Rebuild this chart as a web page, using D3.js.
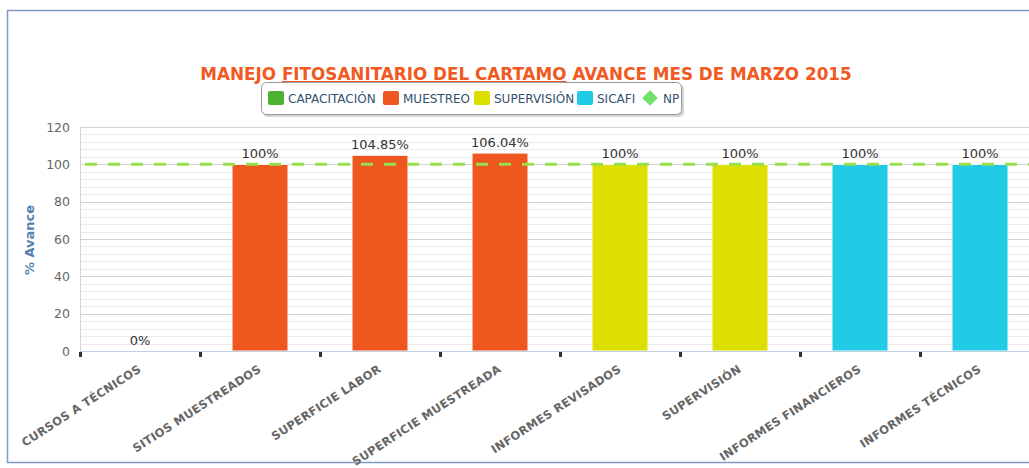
<!DOCTYPE html>
<html>
<head>
<meta charset="utf-8">
<script src="https://cdn.jsdelivr.net/npm/d3@7"></script>
<style>
  body { margin: 0; background: #fff; }
  svg { display: block; font-family: "DejaVu Sans", sans-serif; }
</style>
</head>
<body>
<div id="chart"></div>
<script>
// chart data
var categories = ["CURSOS A TÉCNICOS", "SITIOS MUESTREADOS", "SUPERFICIE LABOR", "SUPERFICIE MUESTREADA",
  "INFORMES REVISADOS", "SUPERVISIÓN", "INFORMES FINANCIEROS", "INFORMES TÉCNICOS"];
var values = [0, 100, 104.85, 106.04, 100, 100, 100, 100];
var valueLabels = ["0%", "100%", "104.85%", "106.04%", "100%", "100%", "100%", "100%"];
var groups = ["CAPACITACIÓN", "MUESTREO", "MUESTREO", "MUESTREO", "SUPERVISIÓN", "SUPERVISIÓN", "SICAFI", "SICAFI"];
var seriesNames = ["CAPACITACIÓN", "MUESTREO", "SUPERVISIÓN", "SICAFI"];
var seriesColors = ["#4cb133", "#ee571d", "#dddf00", "#22cbe5"];
var npValue = 100;
var yTicks = [0, 20, 40, 60, 80, 100, 120];

var svgWidth = 1029;
var svgHeight = 468;

var margin = { top: 127, left: 80 };
var width = 960;
var height = 224;

var svg = d3.select("#chart")
  .append("svg")
  .attr("width", svgWidth)
  .attr("height", svgHeight);

// outer frame
svg.append("rect")
  .attr("x", 7.5)
  .attr("y", 10.5)
  .attr("width", 1060)
  .attr("height", 452)
  .attr("fill", "none")
  .attr("stroke", "#7f9cc8")
  .attr("stroke-width", 1.5);

var colorScale = d3.scaleOrdinal()
  .domain(seriesNames)
  .range(seriesColors);

var xScale = d3.scaleBand()
  .domain(categories)
  .range([0, width])
  .paddingInner(0.5334)
  .paddingOuter(0.2667);

var yScale = d3.scaleLinear()
  .domain([0, 120])
  .range([height, 0]);

var chartGroup = svg.append("g")
  .attr("transform", `translate(${margin.left}, ${margin.top})`);

// minor grid lines
chartGroup.append("g")
  .selectAll("line")
  .data(d3.range(0, 121, 4))
  .enter()
  .append("line")
  .attr("x1", 0)
  .attr("x2", width)
  .attr("y1", d => Math.round(yScale(d)) + 0.5)
  .attr("y2", d => Math.round(yScale(d)) + 0.5)
  .attr("stroke", "#ebebeb")
  .attr("stroke-width", 1);

// major grid lines
chartGroup.append("g")
  .selectAll("line")
  .data(yTicks)
  .enter()
  .append("line")
  .attr("x1", 0)
  .attr("x2", width)
  .attr("y1", d => Math.round(yScale(d)) + 0.5)
  .attr("y2", d => Math.round(yScale(d)) + 0.5)
  .attr("stroke", "#d2d2d2")
  .attr("stroke-width", 1);

// left border of plot area
chartGroup.append("line")
  .attr("x1", 0.5).attr("x2", 0.5)
  .attr("y1", 0).attr("y2", height)
  .attr("stroke", "#d4d4d4");

// y axis
var leftAxis = d3.axisLeft(yScale)
  .tickValues(yTicks)
  .tickSize(0)
  .tickPadding(10);

var yAxis = chartGroup.append("g").call(leftAxis);
yAxis.select(".domain").remove();
yAxis.selectAll("text")
  .attr("fill", "#666")
  .style("font-size", "12.5px")
  .style("font-family", "DejaVu Sans, sans-serif");

// bars
chartGroup.selectAll(".bar")
  .data(values)
  .enter()
  .append("rect")
  .attr("class", "bar")
  .attr("x", (d, i) => xScale(categories[i]))
  .attr("y", d => yScale(d))
  .attr("width", xScale.bandwidth())
  .attr("height", d => height - yScale(d))
  .attr("fill", (d, i) => colorScale(groups[i]))
  .attr("stroke", "#fff")
  .attr("stroke-width", 1);

// NP target line
chartGroup.append("line")
  .attr("x1", 0)
  .attr("x2", width)
  .attr("y1", yScale(npValue))
  .attr("y2", yScale(npValue))
  .attr("stroke", "#97df4c")
  .attr("stroke-width", 3)
  .attr("stroke-dasharray", "12,11")
  .attr("stroke-dashoffset", -5);

// value labels
chartGroup.selectAll(".vlabel")
  .data(values)
  .enter()
  .append("text")
  .attr("class", "vlabel")
  .attr("x", (d, i) => xScale(categories[i]) + xScale.bandwidth() / 2)
  .attr("y", d => yScale(d) - 6)
  .attr("text-anchor", "middle")
  .attr("fill", "#333")
  .style("font-size", "13px")
  .text((d, i) => valueLabels[i]);

// x axis
var bottomAxis = d3.axisBottom(xScale).tickSize(0).tickFormat("");
var xAxis = chartGroup.append("g")
  .attr("transform", `translate(0, ${height})`)
  .call(bottomAxis);
xAxis.select(".domain")
  .attr("stroke", "#c0d0e0")
  .attr("d", `M0,0.5H${width}`);

// dark tick marks between categories
chartGroup.append("g")
  .selectAll("rect")
  .data(categories)
  .enter()
  .append("rect")
  .attr("x", d => xScale(d) - xScale.step() * 0.2667 - 1)
  .attr("y", height + 1)
  .attr("width", 3)
  .attr("height", 5)
  .attr("fill", "#333");

// rotated category labels
chartGroup.append("g")
  .selectAll("text")
  .data(categories)
  .enter()
  .append("text")
  .attr("transform", d => `translate(${xScale(d) + xScale.bandwidth() / 2 + 2}, ${height + 20}) rotate(-33)`)
  .attr("text-anchor", "end")
  .attr("fill", "#666")
  .style("font-size", "11.5px")
  .style("font-weight", "bold")
  .style("letter-spacing", "0.3px")
  .text(d => d);

// y axis title
svg.append("text")
  .attr("transform", "translate(34, 240) rotate(-90)")
  .attr("text-anchor", "middle")
  .attr("fill", "#5580b0")
  .style("font-size", "13px")
  .style("font-weight", "bold")
  .text("% Avance");

// title
var title = svg.append("text")
  .attr("x", 526)
  .attr("y", 80)
  .attr("text-anchor", "middle")
  .attr("fill", "#f05a22")
  .style("font-size", "16.8px")
  .style("font-weight", "bold");
title.append("tspan").text("MANEJO ");
title.append("tspan").style("text-decoration", "underline").text("FITOSANITARIO DEL CARTAMO");
title.append("tspan").text(" AVANCE MES DE MARZO 2015");

// legend
var legend = svg.append("g");
legend.append("rect")
  .attr("x", 263).attr("y", 84)
  .attr("width", 421).attr("height", 33)
  .attr("rx", 5)
  .attr("fill", "#aaa")
  .attr("opacity", 0.5);
legend.append("rect")
  .attr("x", 261.5).attr("y", 82.5)
  .attr("width", 420).attr("height", 32)
  .attr("rx", 5)
  .attr("fill", "#fff")
  .attr("stroke", "#999")
  .attr("stroke-width", 1);

var legendX = [268, 383, 474, 577];
var legendItems = legend.selectAll(".litem")
  .data(seriesNames)
  .enter()
  .append("g")
  .attr("transform", (d, i) => `translate(${legendX[i]}, 98)`);
legendItems.append("rect")
  .attr("x", 0).attr("y", -7)
  .attr("width", 16).attr("height", 14)
  .attr("rx", 2)
  .attr("fill", d => colorScale(d));
legendItems.append("text")
  .attr("x", 20).attr("y", 5)
  .attr("fill", "#34506f")
  .style("font-size", "12px")
  .text(d => d);

var npItem = legend.append("g").attr("transform", "translate(650, 98)");
npItem.append("rect")
  .attr("x", -5.5).attr("y", -5.5)
  .attr("width", 11).attr("height", 11)
  .attr("transform", "rotate(45)")
  .attr("fill", "#6ee26b");
npItem.append("text")
  .attr("x", 13).attr("y", 5)
  .attr("fill", "#34506f")
  .style("font-size", "12px")
  .text("NP");
</script>
</body>
</html>
